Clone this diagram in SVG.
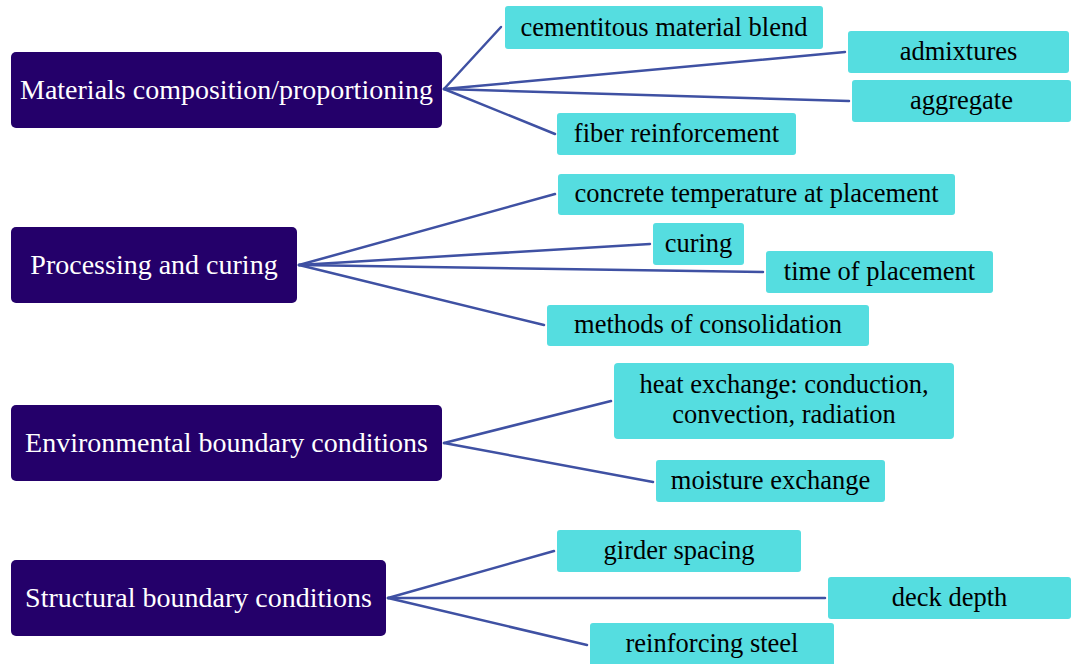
<svg xmlns="http://www.w3.org/2000/svg" width="1071" height="664" viewBox="0 0 1071 664">
<style>
.main rect{fill:#24006a;}
.main text{fill:#ffffff;font-family:"Liberation Serif","Times New Roman",serif;font-size:28px;text-anchor:middle;}
.child rect{fill:#55dde0;}
.child text{fill:#000000;font-family:"Liberation Serif","Times New Roman",serif;font-size:26.5px;text-anchor:middle;}
#connectors line{stroke:#3f51a3;stroke-width:2.5;fill:none;stroke-linecap:round;}
</style>
<rect width="1071" height="664" fill="#ffffff"/>
<g id="connectors">
<line x1="444" y1="89" x2="501" y2="27"/>
<line x1="444" y1="89" x2="845" y2="52"/>
<line x1="444" y1="89" x2="849" y2="101"/>
<line x1="444" y1="89" x2="555" y2="134"/>
<line x1="299" y1="265" x2="555" y2="194"/>
<line x1="299" y1="265" x2="650" y2="244"/>
<line x1="299" y1="265" x2="763" y2="272"/>
<line x1="299" y1="265" x2="544" y2="325"/>
<line x1="444" y1="443" x2="611" y2="401"/>
<line x1="444" y1="443" x2="653" y2="482"/>
<line x1="388" y1="598" x2="554" y2="551"/>
<line x1="388" y1="598" x2="825" y2="598"/>
<line x1="388" y1="598" x2="587" y2="645"/>
</g>
<g id="n-materials" class="main"><rect x="11" y="52" width="431" height="76" rx="5"/><text x="226.5" y="99">Materials composition/proportioning</text></g>
<g id="n-processing" class="main"><rect x="11" y="227" width="286" height="76" rx="5"/><text x="154" y="274">Processing and curing</text></g>
<g id="n-environmental" class="main"><rect x="11" y="405" width="431" height="76" rx="5"/><text x="226.5" y="452">Environmental boundary conditions</text></g>
<g id="n-structural" class="main"><rect x="11" y="560" width="375" height="76" rx="5"/><text x="198.5" y="607">Structural boundary conditions</text></g>
<g id="c-cementitous" class="child"><rect x="505" y="6" width="318" height="43" rx="3"/><text x="664" y="36">cementitous material blend</text></g>
<g id="c-admixtures" class="child"><rect x="848" y="31" width="221" height="42" rx="3"/><text x="958.5" y="60">admixtures</text></g>
<g id="c-aggregate" class="child"><rect x="852" y="80" width="219" height="42" rx="3"/><text x="961.5" y="109">aggregate</text></g>
<g id="c-fiber" class="child"><rect x="557" y="113" width="239" height="42" rx="3"/><text x="676.5" y="142">fiber reinforcement</text></g>
<g id="c-concrete" class="child"><rect x="558" y="174" width="397" height="41" rx="3"/><text x="756.5" y="202">concrete temperature at placement</text></g>
<g id="c-curing" class="child"><rect x="653" y="223" width="91" height="42" rx="3"/><text x="698.5" y="252">curing</text></g>
<g id="c-time" class="child"><rect x="766" y="251" width="227" height="42" rx="3"/><text x="879.5" y="280">time of placement</text></g>
<g id="c-methods" class="child"><rect x="547" y="305" width="322" height="41" rx="3"/><text x="708" y="333">methods of consolidation</text></g>
<g id="c-heat" class="child"><rect x="614" y="363" width="340" height="76" rx="4"/><text x="784" y="393"><tspan x="784" y="393">heat exchange: conduction,</tspan><tspan x="784" y="423">convection, radiation</tspan></text></g>
<g id="c-moisture" class="child"><rect x="656" y="460" width="229" height="42" rx="3"/><text x="770.5" y="489">moisture exchange</text></g>
<g id="c-girder" class="child"><rect x="557" y="530" width="244" height="42" rx="3"/><text x="679" y="559">girder spacing</text></g>
<g id="c-deck" class="child"><rect x="828" y="577" width="243" height="42" rx="3"/><text x="949.5" y="606">deck depth</text></g>
<g id="c-reinforcing" class="child"><rect x="590" y="623" width="244" height="44" rx="3"/><text x="712" y="652">reinforcing steel</text></g>
</svg>
